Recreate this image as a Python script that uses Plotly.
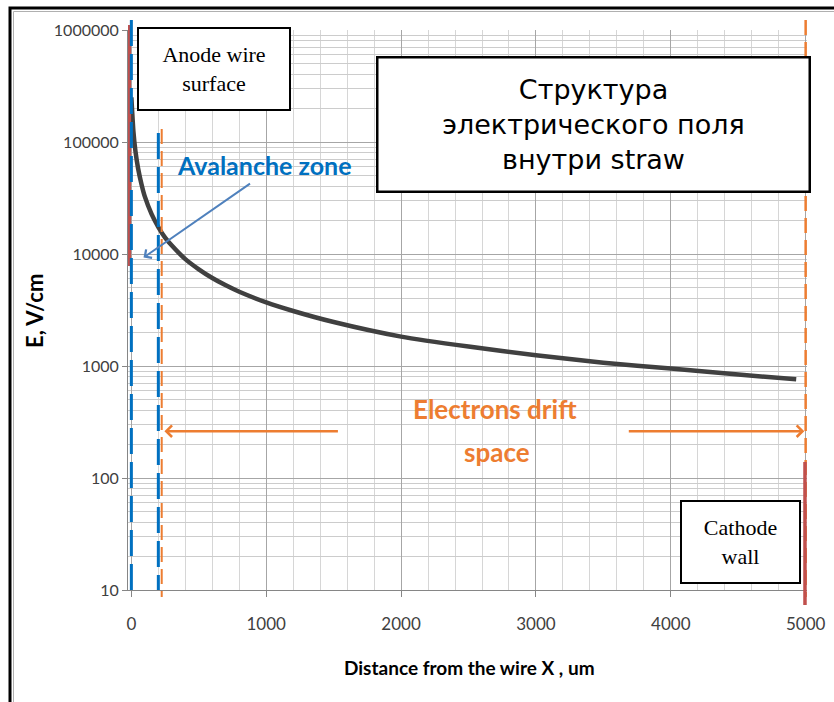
import numpy as np
import plotly.graph_objects as go

# Field strength inside the straw vs distance from the anode wire
distance_um = [0, 15, 30, 50, 75, 100, 150, 200, 250, 300, 400, 500, 600, 700,
               800, 1000, 1200, 1500, 2000, 2500, 3000, 3500, 4000, 4500, 4930]
field_v_cm = [250000, 125000, 83000, 58000, 42000, 32500, 22700, 17400, 14000,
              11900, 9000, 7300, 6100, 5250, 4600, 3700, 3100, 2470, 1830,
              1490, 1250, 1070, 950, 840, 760]

x_ticks = [0, 1000, 2000, 3000, 4000, 5000]
y_ticks = [10, 100, 1000, 10000, 100000, 1000000]
y_tick_text = ["10", "100", "1000", "10000", "100000", "1000000"]

# Region boundaries (um)
anode_x = -15
wire_x = 0
avalanche_edge_x = 200
drift_start_x = 225
cathode_x = 5000
cathode_wall_x = 4995

# Arrow levels (V/cm)
drift_arrow_level = 262
avalanche_arrow_head = (90, 9300)

W, H = 834, 702
L, R, T, B = 128, 27, 30, 112
PW, PH = W - L - R, H - T - B


def px(x):
    return (x - L) / PW


def py(y):
    return (H - B - y) / PH


BLUE = "#0070c0"
ORANGE = "#ed7d31"
RED = "#c0504d"
ARROW_BLUE = "#4f81bd"
TXT = "#404040"

fig = go.Figure()
fig.add_trace(go.Scatter(
    x=distance_um, y=field_v_cm, mode="lines",
    line=dict(color="#404040", width=4.5, shape="spline", smoothing=0.6),
    showlegend=False, hoverinfo="x+y",
))

shapes = [
    # light veil behind the annotation texts
    dict(type="rect", xref="paper", yref="paper", x0=px(217), x1=px(770),
         y0=py(472), y1=py(372), fillcolor="rgba(255,255,255,0.72)",
         line=dict(width=0), layer="below"),
    dict(type="rect", xref="paper", yref="paper", x0=px(176), x1=px(376),
         y0=py(188), y1=py(138), fillcolor="rgba(255,255,255,0.55)",
         line=dict(width=0), layer="below"),
    # anode wire surface
    dict(type="line", xref="x", yref="paper", x0=anode_x, x1=anode_x,
         y0=py(25), y1=py(266), line=dict(color=RED, width=3.5)),
    # avalanche zone borders
    dict(type="line", xref="x", yref="paper", x0=wire_x, x1=wire_x,
         y0=py(20), y1=py(597), line=dict(color=BLUE, width=3, dash="26px,8px")),
    dict(type="line", xref="x", yref="paper", x0=avalanche_edge_x, x1=avalanche_edge_x,
         y0=py(133), y1=py(590), line=dict(color=BLUE, width=3, dash="26px,8px")),
    # drift space borders
    dict(type="line", xref="x", yref="paper", x0=drift_start_x, x1=drift_start_x,
         y0=py(129), y1=py(597), line=dict(color=ORANGE, width=2, dash="15px,7px")),
    dict(type="line", xref="x", yref="paper", x0=cathode_x, x1=cathode_x,
         y0=py(20), y1=py(597), line=dict(color=ORANGE, width=2.5, dash="15px,7px")),
    # cathode wall
    dict(type="line", xref="x", yref="paper", x0=cathode_wall_x, x1=cathode_wall_x,
         y0=py(462), y1=py(605), line=dict(color=RED, width=3.5)),
    # outer frame
    dict(type="path", xref="paper", yref="paper",
         path=f"M{px(10)},{py(702)} L{px(10)},{py(8)} L{px(834)},{py(8)}",
         line=dict(color="black", width=3)),
    dict(type="path", xref="paper", yref="paper",
         path=f"M{px(13.5)},{py(702)} L{px(13.5)},{py(11.5)} L{px(834)},{py(11.5)}",
         line=dict(color="#b0b0b0", width=1)),
]

annotations = [
    # boxed labels
    dict(xref="paper", yref="paper", x=px(213.5), y=py(69.5),
         text="Anode wire<br>surface", showarrow=False, width=150, height=80,
         font=dict(family="Liberation Serif", size=22, color="black"),
         bgcolor="white", bordercolor="black", borderwidth=2, borderpad=0,
         xanchor="center", yanchor="middle"),
    dict(xref="paper", yref="paper", x=px(593.5), y=py(124.5),
         text="Структура<br>электрического поля<br>внутри straw", showarrow=False,
         width=430, height=132,
         font=dict(family="DejaVu Sans", size=27, color="black"),
         bgcolor="white", bordercolor="black", borderwidth=2.5, borderpad=0,
         xanchor="center", yanchor="middle"),
    dict(xref="paper", yref="paper", x=px(740), y=py(541.5),
         text="Cathode<br>wall", showarrow=False, width=117, height=80,
         font=dict(family="Liberation Serif", size=22, color="black"),
         bgcolor="white", bordercolor="black", borderwidth=2, borderpad=0,
         xanchor="center", yanchor="middle"),
    # zone captions
    dict(xref="paper", yref="paper", x=px(264), y=py(165),
         text="<b>Avalanche zone</b>", showarrow=False,
         font=dict(family="Lato", size=25, color=BLUE),
         xanchor="center", yanchor="middle"),
    dict(xref="paper", yref="paper", x=px(495), y=py(409),
         text="<b>Electrons drift</b>", showarrow=False,
         font=dict(family="Lato", size=26, color=ORANGE),
         xanchor="center", yanchor="middle"),
    dict(xref="paper", yref="paper", x=px(497), y=py(452),
         text="<b>space</b>", showarrow=False,
         font=dict(family="Lato", size=26, color=ORANGE),
         xanchor="center", yanchor="middle"),
    # arrows
    dict(xref="x", yref="y", x=avalanche_arrow_head[0], y=np.log10(avalanche_arrow_head[1]),
         ax=108, ay=-75, text="", showarrow=True, arrowhead=4, arrowsize=1,
         arrowwidth=2, arrowcolor=ARROW_BLUE, standoff=0),
    dict(xref="x", yref="y", x=drift_start_x + 20, y=np.log10(drift_arrow_level),
         ax=175, ay=0, text="", showarrow=True, arrowhead=4, arrowsize=0.9,
         arrowwidth=2.5, arrowcolor=ORANGE, standoff=0),
    dict(xref="x", yref="y", x=cathode_x - 10, y=np.log10(drift_arrow_level),
         ax=-177, ay=0, text="", showarrow=True, arrowhead=4, arrowsize=0.9,
         arrowwidth=2.5, arrowcolor=ORANGE, standoff=0),
    # axis titles
    dict(xref="paper", yref="paper", x=px(469), y=py(667),
         text="<b>Distance from the wire X , um</b>", showarrow=False,
         font=dict(family="Lato", size=19, color="black"),
         xanchor="center", yanchor="middle"),
    dict(xref="paper", yref="paper", x=px(34), y=py(311),
         text="<b>E, V/cm</b>", showarrow=False, textangle=-90,
         font=dict(family="Lato", size=22, color="black"),
         xanchor="center", yanchor="middle"),
]

fig.update_layout(
    width=W, height=H,
    margin=dict(l=L, r=R, t=T, b=B),
    paper_bgcolor="white", plot_bgcolor="white",
    shapes=shapes, annotations=annotations,
    showlegend=False,
    xaxis=dict(
        range=[-25, 5010], tickmode="array", tickvals=x_ticks,
        ticks="outside", ticklen=6, tickcolor="#868686",
        showline=True, linecolor="#868686", linewidth=1,
        showgrid=True, gridcolor="#a6a6a6", gridwidth=1, zeroline=False,
        minor=dict(dtick=200, tick0=0, showgrid=True, gridcolor="#d6d6d6", ticks=""),
        tickfont=dict(family="Lato", size=17, color=TXT),
        ticklabelstandoff=13, automargin=False,
    ),
    yaxis=dict(
        type="log", range=[1, 6], tickmode="array", tickvals=y_ticks,
        ticktext=y_tick_text,
        ticks="outside", ticklen=5, tickcolor="#868686",
        showline=True, linecolor="#868686", linewidth=1,
        showgrid=True, gridcolor="#a6a6a6", gridwidth=1, zeroline=False,
        minor=dict(dtick="D1", showgrid=True, gridcolor="#cccccc", ticks=""),
        tickfont=dict(family="Lato", size=16, color=TXT),
        automargin=False,
    ),
)

fig.write_html("out.html")
